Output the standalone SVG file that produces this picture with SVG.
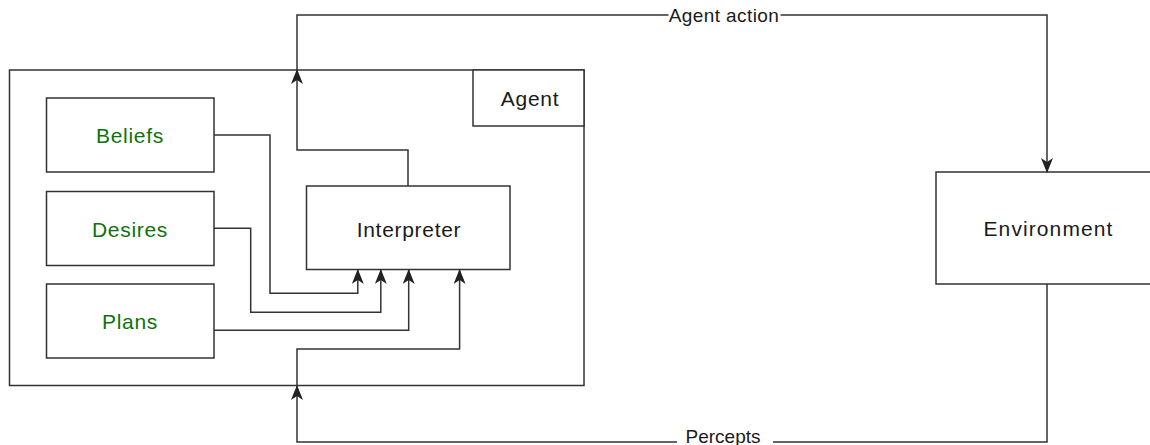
<svg xmlns="http://www.w3.org/2000/svg" width="1150" height="445" viewBox="0 0 1150 445">
<style>
.box{fill:#ffffff;stroke:#333333;stroke-width:1.5}
.lbl{font-family:"Liberation Sans",Arial,sans-serif;font-size:21px;text-anchor:middle;fill:#1a1a1a;letter-spacing:0.7px}
.green{fill:#0d730d}
.edge{fill:none;stroke:#333333;stroke-width:1.5}
.elbl{font-family:"Liberation Sans",Arial,sans-serif;font-size:19px;text-anchor:middle;fill:#1a1a1a}
</style>
<defs>
<marker id="arr" viewBox="0 0 15 12" refX="14" refY="6" markerWidth="15" markerHeight="12" markerUnits="userSpaceOnUse" orient="auto">
<path d="M0,0 L15,6 L0,12 L4,6 Z" fill="#222222"/>
</marker>
</defs>
<rect x="0" y="0" width="1150" height="445" fill="#ffffff"/>
<g id="agent">
<rect class="box" x="9.5" y="70" width="574.5" height="315.5"/>
<rect class="box" x="473" y="70" width="111" height="56"/>
<text class="lbl" x="530" y="106">Agent</text>
</g>
<g id="beliefs">
<rect class="box" x="46.5" y="98" width="167.5" height="74"/>
<text class="lbl green" x="130" y="143">Beliefs</text>
</g>
<g id="desires">
<rect class="box" x="46.5" y="191.5" width="167.5" height="74"/>
<text class="lbl green" x="130" y="236.5">Desires</text>
</g>
<g id="plans">
<rect class="box" x="46.5" y="284" width="167.5" height="74"/>
<text class="lbl green" x="130" y="329">Plans</text>
</g>
<g id="interpreter">
<rect class="box" x="306.5" y="186" width="203.5" height="83.5"/>
<text class="lbl" x="409" y="236.5">Interpreter</text>
</g>
<g id="environment">
<rect class="box" x="936" y="172" width="222" height="112"/>
<text class="lbl" x="1048.5" y="236" style="letter-spacing:1.1px">Environment</text>
</g>
<g id="connectors">
<path class="edge" d="M214,135 H270 V293.3 H357.8 V270" marker-end="url(#arr)"/>
<path class="edge" d="M214,228.3 H250.7 V312.3 H380.8 V270" marker-end="url(#arr)"/>
<path class="edge" d="M214,330.3 H408.7 V270" marker-end="url(#arr)"/>
<path class="edge" d="M408,186 V150 H297 V70" marker-end="url(#arr)"/>
<path class="edge" d="M297,70 V15 H1047 V172" marker-end="url(#arr)"/>
<path class="edge" d="M1047,284 V442 H297 V386" marker-end="url(#arr)"/>
<path class="edge" d="M297,386 V349 H459.6 V270" marker-end="url(#arr)"/>
<rect x="668.5" y="5" width="112" height="20" fill="#ffffff"/>
<text class="elbl" x="724" y="21.5" style="letter-spacing:0.4px">Agent action</text>
<rect x="677" y="429" width="96" height="16" fill="#ffffff"/>
<text class="elbl" x="723" y="442.5">Percepts</text>
</g>
</svg>
